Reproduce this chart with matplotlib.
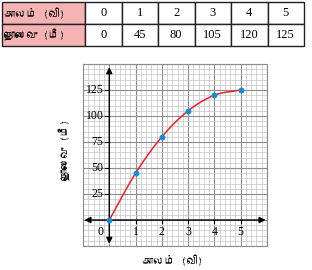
import matplotlib
matplotlib.use("Agg")
import matplotlib.pyplot as plt
from matplotlib import font_manager
from matplotlib.path import Path
from matplotlib.patches import PathPatch
import numpy as np

time_s = [0, 1, 2, 3, 4, 5]
distance_m = [0, 45, 80, 105, 120, 125]
row_labels = ["காலம் (வி)", "தொலைவு (மீ)"]
x_label = "காலம் (வி)"
y_label = "தொலைவு (மீ)"
x_ticks = [1, 2, 3, 4, 5]
y_ticks = [25, 50, 75, 100, 125]

W, H = 312, 270


def tamil_font():
    # look for any installed font that covers Tamil letters
    try:
        from fontTools.ttLib import TTFont
    except ImportError:
        return None
    for f in font_manager.fontManager.ttflist:
        try:
            cmap = TTFont(f.fname, fontNumber=0, lazy=True).getBestCmap()
        except Exception:
            continue
        if cmap and 0x0B95 in cmap:
            return f.name
    return None


ta = tamil_font()
serif = ["Liberation Serif", "DejaVu Serif"]
tam = ([ta] if ta else []) + ["Liberation Sans", "DejaVu Sans"]
plt.rcParams["font.family"] = serif


def fx(px):
    return px / W


def fy(py):
    return 1 - py / H


fig = plt.figure(figsize=(W / 100, H / 100), dpi=100)

# table at the top
tab_ax = fig.add_axes([fx(2), fy(46), fx(302), (46 - 2) / H])
tab_ax.axis("off")
cells = [[row_labels[0]] + [str(v) for v in time_s],
         [row_labels[1]] + [str(v) for v in distance_m]]
col_w = [83] + [36.5] * 6
tbl = tab_ax.table(cellText=cells, colWidths=[w / sum(col_w) for w in col_w],
                   bbox=[0, 0, 1, 1], cellLoc="center")
tbl.auto_set_font_size(False)
for (r, c), cell in tbl.get_celld().items():
    cell.set_edgecolor("#222222")
    cell.set_linewidth(1.0)
    txt = cell.get_text()
    if c == 0:
        cell.set_facecolor("#f5b3b4")
        txt.set_fontfamily(tam)
        txt.set_fontsize(8)
        txt.set_ha("left")
        cell.PAD = 0.03
    else:
        txt.set_fontsize(9)

# graph
ax = fig.add_axes([fx(83), fy(246), fx(267 - 83), (246 - 64) / H])
ax.set_xlim(-1, 6)
ax.set_ylim(-25, 150)
ax.set_xticks(np.arange(-1, 7, 1))
ax.set_yticks(np.arange(-25, 175, 25))
ax.set_xticks(np.arange(-1, 6.01, 0.2), minor=True)
ax.set_yticks(np.arange(-25, 150.1, 5), minor=True)
ax.grid(which="minor", color="#c4c4c4", lw=0.5)
ax.grid(which="major", color="#8c8c8c", lw=0.8)
ax.tick_params(which="both", length=0, labelbottom=False, labelleft=False)
for s in ax.spines.values():
    s.set_color("#8c8c8c")
    s.set_linewidth(0.8)
ax.set_axisbelow(True)

arrow = dict(arrowstyle="<|-|>", color="black", lw=1.0, mutation_scale=9,
             shrinkA=0, shrinkB=0)
ax.annotate("", xy=(5.95, 0), xytext=(-0.95, 0), arrowprops=arrow)
ax.annotate("", xy=(0, 147), xytext=(0, -23), arrowprops=arrow)

for t in x_ticks:
    ax.plot([t, t], [0, -3], color="black", lw=0.8)
    ax.text(t, -6, str(t), ha="center", va="top", fontsize=8.5)
ax.text(-0.35, -6, "0", ha="center", va="top", fontsize=8.5)
for t in y_ticks:
    ax.plot([-0.18, 0], [t, t], color="black", lw=0.8)
    ax.text(-0.22, t, str(t), ha="right", va="center", fontsize=8.5)

# smooth curve through the points (Catmull-Rom -> cubic Bezier)
pts = np.column_stack([time_s, distance_m]).astype(float)
ext = np.vstack([pts[0] * 2 - pts[1], pts, pts[-1] * 2 - pts[-2]])
verts = [tuple(pts[0])]
codes = [Path.MOVETO]
for i in range(1, len(ext) - 2):
    p0, p1, p2, p3 = ext[i - 1], ext[i], ext[i + 1], ext[i + 2]
    verts += [tuple(p1 + (p2 - p0) / 6), tuple(p2 - (p3 - p1) / 6), tuple(p2)]
    codes += [Path.CURVE4] * 3
ax.add_patch(PathPatch(Path(verts, codes), fill=False, color="#e8232a", lw=1.1,
                       zorder=3))
ax.scatter(time_s, distance_m, s=18, color="#1b8ad6", zorder=4, linewidths=0)

fig.text(fx(172), fy(260), x_label, ha="center", va="center", fontsize=8,
         family=tam)
fig.text(fx(65), fy(150), y_label, ha="center", va="center", fontsize=8,
         rotation=90, family=tam)

fig.savefig("out.png", dpi=100)
